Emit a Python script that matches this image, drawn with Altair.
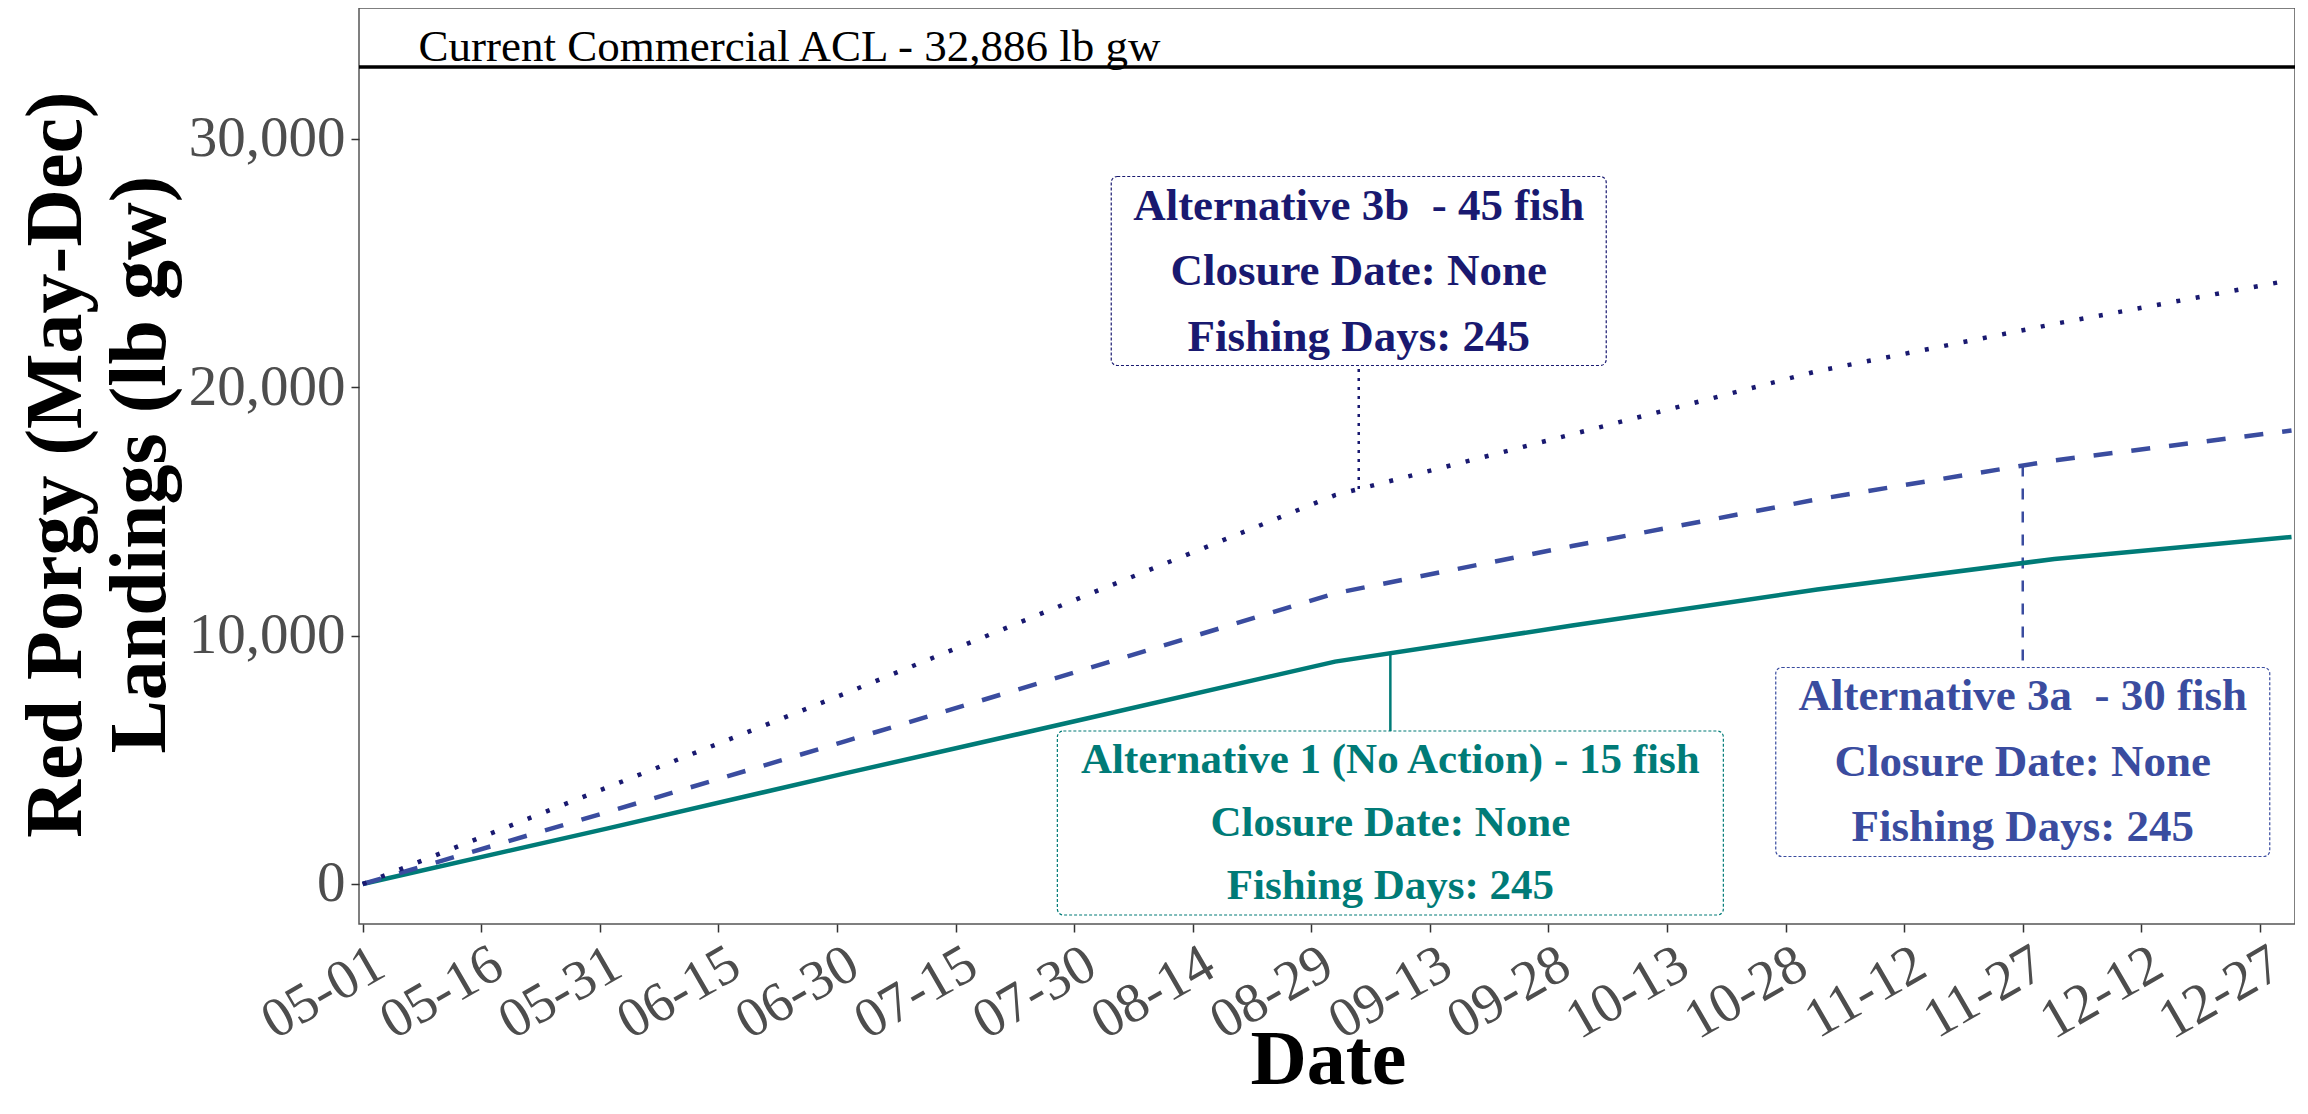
import altair as alt
import pandas as pd
import numpy as np

YEAR = 2023

# ---- data ----
knot_dates = ["05-01", "06-01", "07-01", "08-01", "09-01", "10-01", "11-01", "12-01", "12-31"]
alt1_values = [0, 2240, 4450, 6690, 8950, 10400, 11850, 13080, 13970]
alt3a_values = [0, 2900, 5740, 8700, 11700, 13600, 15480, 17050, 18250]
alt3b_values = [0, 3895, 7663, 11680, 15650, 18100, 20640, 22540, 24310]

tick_labels = ["05-01", "05-16", "05-31", "06-15", "06-30", "07-15", "07-30", "08-14",
               "08-29", "09-13", "09-28", "10-13", "10-28", "11-12", "11-27", "12-12", "12-27"]
y_ticks = [0, 10000, 20000, 30000]

acl_value = 32886
acl_text = "Current Commercial ACL - 32,886 lb gw"
acl_label_date = "06-24"

series_names = ["Alternative 1", "Alternative 3a", "Alternative 3b"]
series_values = [alt1_values, alt3a_values, alt3b_values]
series_colors = ["#007B77", "#3A4C9F", "#191970"]

label_dates = ["09-08", "11-27", "09-04"]
label_values = [2455, 4910, 24671]
label_texts = [
    "Alternative 1 (No Action) - 15 fish\nClosure Date: None\nFishing Days: 245",
    "Alternative 3a\u00a0 - 30 fish\nClosure Date: None\nFishing Days: 245",
    "Alternative 3b\u00a0 - 45 fish\nClosure Date: None\nFishing Days: 245",
]

# ---- styles ----
FONT = "Liberation Serif"
line_dash = [None, [19, 19], [4, 15.7]]
leader_dash = [None, [11, 12], [3, 6]]
box_w = [666, 494, 495]
box_h = [184, 189, 189]
label_size = [43, 45, 45]
label_lh = [63, 65.5, 65.5]


def ts(md):
    return f"{YEAR}-{md}T00:00:00"


def doy(md):
    return pd.Timestamp(ts(md)).dayofyear


x_scale = alt.Scale(domain=[alt.DateTime(year=YEAR, month=4, date=30, hours=12, minutes=43),
                            alt.DateTime(year=YEAR, month=12, date=31, hours=10, minutes=34)])
y_scale = alt.Scale(domain=[-1610, 35256], nice=False, zero=False)

x_axis = alt.Axis(
    title="Date", titleFont=FONT, titleFontSize=78, titleFontWeight="bold", titleColor="black",
    titleX=969, titleY=159, titleBaseline="alphabetic", titleAlign="center",
    values=[alt.DateTime(year=YEAR, month=int(t[:2]), date=int(t[3:])) for t in tick_labels],
    format="%m-%d", labelAngle=330, labelAlign="right", labelBaseline="top",
    labelFont=FONT, labelFontSize=56, labelColor="#4D4D4D", labelOffset=3, labelPadding=4,
    labelOverlap=False, labelFlush=False, tickSize=8, tickColor="#333333", tickWidth=1.5,
    grid=False, domain=False,
)
y_axis = alt.Axis(
    title=["Red Porgy (May-Dec)", "Landings (lb gw)"], titleFont=FONT, titleFontSize=80,
    titleFontWeight="bold", titleColor="black", titleAngle=270, titleAlign="center",
    titleBaseline="alphabetic", titleLineHeight=84, titleX=-279, titleY=456,
    values=y_ticks, format=",d", labelFont=FONT, labelFontSize=57, labelColor="#4D4D4D",
    labelPadding=6, labelOverlap=False, labelFlush=False, tickSize=8, tickColor="#333333",
    tickWidth=1.5, grid=False, domain=False,
)


def X(field="date"):
    return alt.X(f"{field}:T", scale=x_scale, axis=x_axis)


def Y(field="value"):
    return alt.Y(f"{field}:Q", scale=y_scale, axis=y_axis)


layers = []

# leader lines (under the boxes)
days = [doy(d) for d in knot_dates]
for i in range(3):
    line_at = float(np.interp(doy(label_dates[i]), days, series_values[i]))
    ldf = pd.DataFrame({"date": [ts(label_dates[i])], "value": [line_at], "value2": [label_values[i]]})
    kw = dict(color=series_colors[i], strokeWidth=2.5)
    if leader_dash[i]:
        kw["strokeDash"] = leader_dash[i]
    layers.append(alt.Chart(ldf).mark_rule(**kw).encode(x=X(), y=Y(), y2=alt.Y2("value2:Q")))

# series lines
for i in range(3):
    sdf = pd.DataFrame({"date": [ts(d) for d in knot_dates], "value": series_values[i],
                        "series": series_names[i]})
    kw = dict(color=series_colors[i], strokeWidth=4.5, strokeCap="butt")
    if line_dash[i]:
        kw["strokeDash"] = line_dash[i]
    layers.append(alt.Chart(sdf).mark_line(**kw).encode(x=X(), y=Y()))

# ACL line and text
acl_df = pd.DataFrame({"date": [ts(acl_label_date)], "value": [acl_value], "text": [acl_text]})
layers.append(alt.Chart(acl_df).mark_rule(color="black", strokeWidth=3.5).encode(y=Y()))
layers.append(alt.Chart(acl_df).mark_text(font=FONT, fontSize=45, color="black", align="center",
                                          baseline="alphabetic", dy=-6)
              .encode(x=X(), y=Y(), text="text:N"))

# label boxes and texts
for i in range(3):
    bdf = pd.DataFrame({"date": [ts(label_dates[i])], "value": [label_values[i]], "text": [label_texts[i]]})
    layers.append(alt.Chart(bdf).mark_rect(
        fill="white", stroke=series_colors[i], strokeWidth=1.2, strokeDash=[3, 2], cornerRadius=6,
        xOffset=-box_w[i] / 2, x2Offset=box_w[i] / 2, yOffset=-box_h[i] / 2, y2Offset=box_h[i] / 2,
    ).encode(x=X(), x2=alt.X2("date:T"), y=Y(), y2=alt.Y2("value:Q")))
    layers.append(alt.Chart(bdf).mark_text(
        font=FONT, fontSize=label_size[i], fontWeight="bold", color=series_colors[i],
        align="center", baseline="middle", lineBreak="\n", lineHeight=label_lh[i],
        dy=-label_lh[i],
    ).encode(x=X(), y=Y(), text="text:N"))

chart = alt.layer(*layers).properties(
    width=1936, height=916,
    padding={"left": 351, "top": 0, "right": 0, "bottom": 177},
    autosize=alt.AutoSizeParams(type="none"),
    background="white",
).configure_view(stroke="#555555", strokeWidth=1.5)

chart.save("out.html", embed_options={"renderer": "svg", "actions": False})
